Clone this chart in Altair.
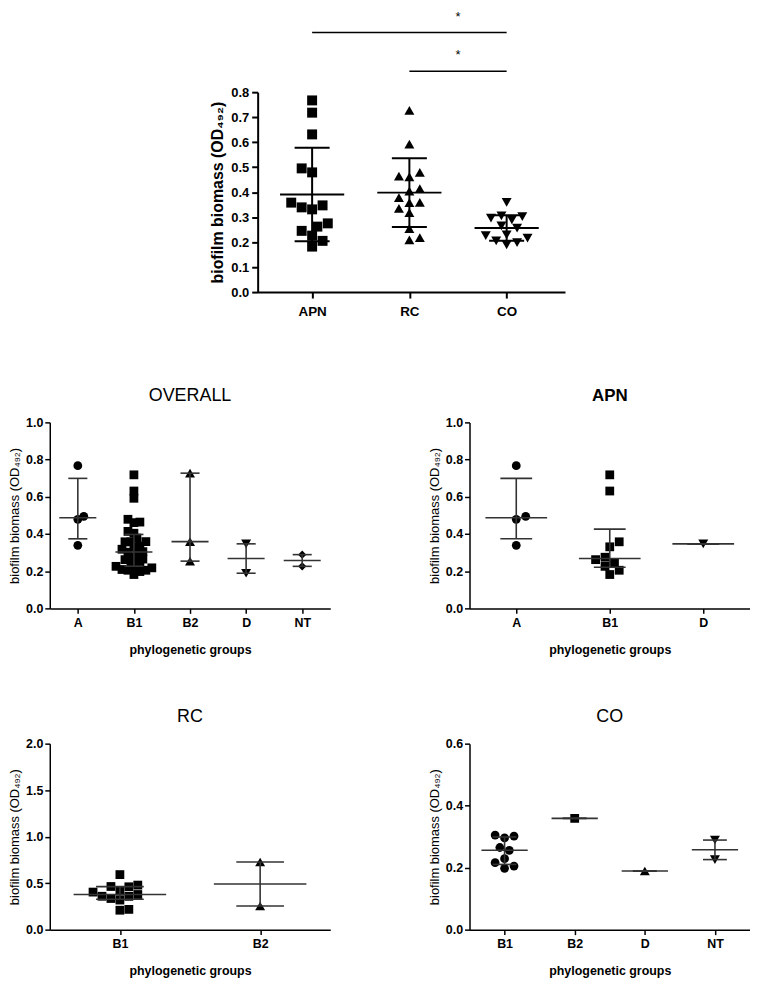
import altair as alt
import numpy as np
import pandas as pd

# ---------------------------------------------------------------- data
SOURCES = ["APN", "RC", "CO"]
GROUPS = ["A", "B1", "B2", "D", "NT"]

# biofilm biomass (OD492) of each strain, by origin and phylogenetic group
APN_A = [0.767, 0.495, 0.479, 0.339]
APN_B1 = [0.718, 0.631, 0.358, 0.331, 0.275, 0.262, 0.245, 0.226, 0.205, 0.182]
APN_D = [0.347]
RC_B1 = [0.592, 0.479, 0.464, 0.461, 0.414, 0.404, 0.378, 0.359, 0.358, 0.335, 0.318, 0.218, 0.209]
RC_B2 = [0.727, 0.254]
CO_B1 = [0.305, 0.302, 0.296, 0.265, 0.256, 0.229, 0.216, 0.205, 0.198]
CO_B2 = [0.359]
CO_D = [0.189]
CO_NT = [0.289, 0.226]

# significance annotations of the top chart
SIG_FROM = ["APN", "RC"]
SIG_TO = ["CO", "CO"]
SIG_TEXT = ["*", "*"]

TOP_Y_TICKS = [0.0, 0.1, 0.2, 0.3, 0.4, 0.5, 0.6, 0.7, 0.8]
OD_TICKS = [0.0, 0.2, 0.4, 0.6, 0.8, 1.0]
RC_TICKS = [0.0, 0.5, 1.0, 1.5, 2.0]
CO_TICKS = [0.0, 0.2, 0.4, 0.6]

Y_TITLE = "biofilm biomass (OD\u2084\u2089\u2082)"
X_TITLE = "phylogenetic groups"

BY_SOURCE = {
    "APN": {"A": APN_A, "B1": APN_B1, "D": APN_D},
    "RC": {"B1": RC_B1, "B2": RC_B2},
    "CO": {"B1": CO_B1, "B2": CO_B2, "D": CO_D, "NT": CO_NT},
}
OVERALL = {g: sum((BY_SOURCE[s].get(g, []) for s in SOURCES), []) for g in GROUPS}

# ---------------------------------------------------------------- style
FONT = "Liberation Sans"
TOP_SHAPES = ["square", "triangle-up", "triangle-down"]
SHAPE_SIZE = {"circle": 78, "square": 78, "triangle-up": 100, "triangle-down": 100, "diamond": 70}
TW, TH = 309, 201
T_XDOM = [-0.56, 2.6]
PW, PH = 282, 187
LINE_COL = "#333333"


def swarm(vals, ppu, step, d):
    """Simple beeswarm: horizontal offsets (in category units) avoiding overlap."""
    order = sorted(range(len(vals)), key=lambda i: vals[i])
    placed = []
    offs = [0.0] * len(vals)
    for i in order:
        y = vals[i] * ppu
        right = sum(1 for px, _ in placed if px > 0)
        left = sum(1 for px, _ in placed if px < 0)
        signs = (1, -1) if right <= left else (-1, 1)
        cands = [0.0] + [s * k * d / 2 for k in range(1, 40) for s in signs]
        for c in cands:
            if all((c - px) ** 2 + (y - py) ** 2 >= (0.92 * d) ** 2 for px, py in placed):
                placed.append((c, y))
                offs[i] = c / step
                break
    return offs


def js_list(items):
    return "[" + ",".join("'" + t + "'" for t in items) + "]"


# ---------------------------------------------------------------- top chart
TYMAX = TOP_Y_TICKS[-1]
t_step = TW / (T_XDOM[1] - T_XDOM[0])
t_ppu = TH / TYMAX

t_pts, t_st = [], []
for i, s in enumerate(SOURCES):
    vals = sum(BY_SOURCE[s].values(), [])
    offs = swarm(vals, t_ppu, t_step, 10.5)
    for v, o in zip(vals, offs):
        t_pts.append({"src": s, "shape": TOP_SHAPES[i], "x": i + o, "v": v})
    m = float(np.mean(vals))
    sd = float(np.std(vals, ddof=1))
    t_st.append({"x": i, "xm1": i - 0.33, "xm2": i + 0.33, "xe1": i - 0.18, "xe2": i + 0.18,
                 "m": m, "lo": m - sd, "hi": m + sd})

sig = []
nsig = len(SIG_FROM)
for k, (a, b, t) in enumerate(zip(SIG_FROM, SIG_TO, SIG_TEXT)):
    level = TYMAX + (21 + 39 * (nsig - 1 - k)) / t_ppu
    ib = SOURCES.index(b)
    sig.append({"x1": SOURCES.index(a), "x2": ib, "xs": ib - 0.5, "lev": level, "t": t})

t_pts, t_st, sig = pd.DataFrame(t_pts), pd.DataFrame(t_st), pd.DataFrame(sig)

tx = alt.Scale(domain=T_XDOM, nice=False, zero=False)
ty = alt.Scale(domain=[0, TYMAX], nice=False, zero=False)
t_xaxis = alt.Axis(values=list(range(len(SOURCES))), labelExpr=js_list(SOURCES) + "[datum.value]",
                   title=None, grid=False, domainColor="black", domainWidth=2, tickColor="black",
                   tickWidth=2, tickSize=6, labelFont=FONT, labelFontSize=13.5, labelFontWeight="bold",
                   labelColor="black", labelPadding=7, labelFlush=False, labelOverlap=False)
t_yaxis = alt.Axis(values=TOP_Y_TICKS, format=".1f", title=Y_TITLE, grid=False, domainColor="black",
                   domainWidth=2, tickColor="black", tickWidth=2, tickSize=6, labelFont=FONT,
                   labelFontSize=13, labelFontWeight="bold", labelColor="black", labelPadding=3,
                   labelFlush=False, labelOverlap=False, titleFont=FONT, titleFontSize=16,
                   titleFontWeight="bold", titleColor="black", titlePadding=5)


def TX(f):
    return alt.X(f, type="quantitative", scale=tx, axis=t_xaxis)


def TY(f):
    return alt.Y(f, type="quantitative", scale=ty, axis=t_yaxis)


t_points = alt.Chart(t_pts).mark_point(filled=True, size=100, opacity=1, color="black").encode(
    x=TX("x"), y=TY("v"), shape=alt.Shape("shape:N", scale=None))
t_base = alt.Chart(t_st).mark_rule(color="black", strokeWidth=2)
t_mean = t_base.encode(x=TX("xm1"), x2="xm2", y=TY("m"))
t_hi = t_base.encode(x=TX("xe1"), x2="xe2", y=TY("hi"))
t_lo = t_base.encode(x=TX("xe1"), x2="xe2", y=TY("lo"))
t_vert = t_base.encode(x=TX("x"), y=TY("lo"), y2="hi")
t_sig = alt.Chart(sig).mark_rule(color="black", strokeWidth=1.5).encode(x=TX("x1"), x2="x2", y=TY("lev"))
t_star = alt.Chart(sig).mark_text(font=FONT, fontSize=13, baseline="alphabetic", dy=-12, color="black").encode(
    x=TX("xs"), y=TY("lev"), text="t:N")

top = alt.layer(t_points, t_mean, t_hi, t_lo, t_vert, t_sig, t_star).properties(width=TW, height=TH)

spacer = alt.Chart(pd.DataFrame({"a": [0]})).mark_point(opacity=0, size=1).encode(
    x=alt.value(5), y=alt.value(0)).properties(width=160, height=1)


# ---------------------------------------------------------------- bottom panels
def panel(title, groups, shapes, series, ticks, tweight, tsize, spread):
    n = len(groups)
    ymax = ticks[-1]
    ppu = PH / ymax
    step = PW / n
    pts, st = [], []
    for i, g in enumerate(groups):
        vals = series[g]
        offs = swarm(vals, ppu, step, spread)
        for v, o in zip(vals, offs):
            pts.append({"grp": g, "shape": shapes[i], "sz": SHAPE_SIZE[shapes[i]], "x": i + o, "v": v})
        q1, med, q3 = np.percentile(vals, [25, 50, 75], method="weibull")
        st.append({"x": i, "xm1": i - 0.33, "xm2": i + 0.33, "xe1": i - 0.17, "xe2": i + 0.17,
                   "med": float(med), "q1": float(q1), "q3": float(q3)})
    pts, st = pd.DataFrame(pts), pd.DataFrame(st)

    xs = alt.Scale(domain=[-0.5, n - 0.5], nice=False, zero=False)
    ys = alt.Scale(domain=[0, ymax], nice=False, zero=False)
    xaxis = alt.Axis(values=list(range(n)), labelExpr=js_list(groups) + "[datum.value]", title=X_TITLE,
                     grid=False, domainColor="black", domainWidth=1.5, tickColor="black", tickWidth=1.5,
                     tickSize=5, labelFont=FONT, labelFontSize=12.5, labelFontWeight="bold",
                     labelColor="black", labelPadding=3, labelFlush=False, labelOverlap=False,
                     titleFont=FONT, titleFontSize=12.5, titleFontWeight="bold", titleColor="black",
                     titlePadding=15)
    yaxis = alt.Axis(values=ticks, format=".1f", title=Y_TITLE, grid=False, domainColor="black",
                     domainWidth=1.5, tickColor="black", tickWidth=1.5, tickSize=5, labelFont=FONT,
                     labelFontSize=12.5, labelFontWeight="bold", labelColor="black", labelPadding=2,
                     labelFlush=False, labelOverlap=False, titleFont=FONT, titleFontSize=13,
                     titleFontWeight="normal", titleColor="black", titlePadding=4)

    def PX(f):
        return alt.X(f, type="quantitative", scale=xs, axis=xaxis)

    def PY(f):
        return alt.Y(f, type="quantitative", scale=ys, axis=yaxis)

    p = alt.Chart(pts).mark_point(filled=True, opacity=1, color="black").encode(
        x=PX("x"), y=PY("v"), shape=alt.Shape("shape:N", scale=None),
        size=alt.Size("sz:Q", scale=None))
    b = alt.Chart(st).mark_rule(color=LINE_COL, strokeWidth=1.6)
    med = b.encode(x=PX("xm1"), x2="xm2", y=PY("med"))
    hi = b.encode(x=PX("xe1"), x2="xe2", y=PY("q3"))
    lo = b.encode(x=PX("xe1"), x2="xe2", y=PY("q1"))
    vert = b.encode(x=PX("x"), y=PY("q1"), y2="q3")
    return alt.layer(p, med, hi, lo, vert).properties(
        width=PW, height=PH,
        title=alt.TitleParams(text=title, font=FONT, fontSize=tsize, fontWeight=tweight, color="black",
                              anchor="middle", frame="group", offset=12))


p_over = panel("OVERALL", GROUPS, ["circle", "square", "triangle-up", "triangle-down", "diamond"],
               OVERALL, OD_TICKS, "normal", 18, 6.0)
p_apn = panel("APN", ["A", "B1", "D"], ["circle", "square", "triangle-down"],
              BY_SOURCE["APN"], OD_TICKS, "bold", 17, 9.5)
p_rc = panel("RC", ["B1", "B2"], ["square", "triangle-up"], BY_SOURCE["RC"], RC_TICKS, "normal", 18, 9.0)
p_co = panel("CO", ["B1", "B2", "D", "NT"], ["circle", "square", "triangle-up", "triangle-down"],
             BY_SOURCE["CO"], CO_TICKS, "normal", 18, 9.5)

row1 = alt.hconcat(spacer, top, spacing=0)
row2 = alt.hconcat(p_over, p_apn, spacing=98)
row3 = alt.hconcat(p_rc, p_co, spacing=98)

chart = alt.vconcat(alt.vconcat(row1, row2, spacing=68), row3, spacing=52).properties(
    padding={"left": 0, "top": 0, "right": 0, "bottom": 0}
).configure_view(stroke=None)

chart.save("out.html", embed_options={"renderer": "svg", "actions": False})
